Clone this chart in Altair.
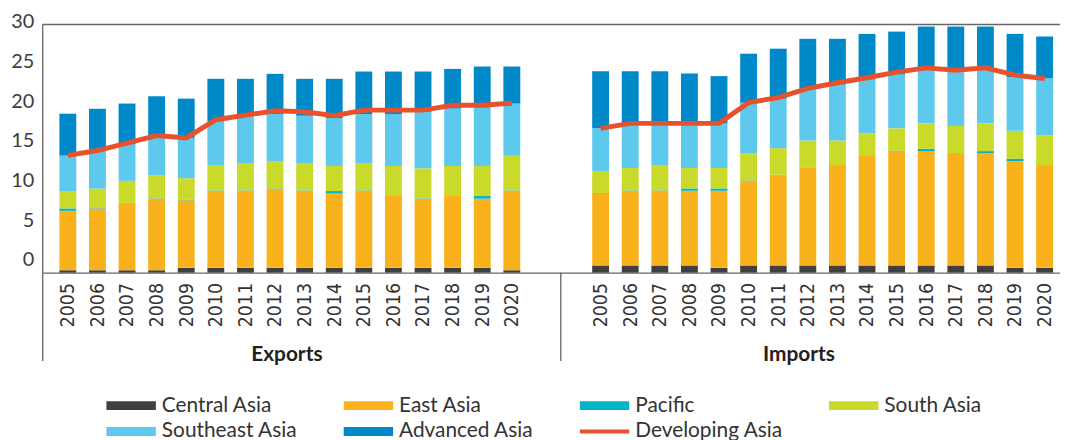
import altair as alt
import pandas as pd

# ---------------- data ----------------
YEARS = ["2005", "2006", "2007", "2008", "2009", "2010", "2011", "2012",
         "2013", "2014", "2015", "2016", "2017", "2018", "2019", "2020"]
FLOWS = ["Exports", "Imports"]
REGIONS = ["Central Asia", "East Asia", "Pacific", "South Asia",
           "Southeast Asia", "Advanced Asia"]
LINE_NAME = "Developing Asia"
COLORS = ["#3F3F3F", "#F9B21B", "#00B4C9", "#C9DA2B", "#5DC9ED", "#0089C8"]
RED = "#E8512C"

EXP_CENTRAL = [0.3, 0.3, 0.3, 0.3, 0.6, 0.6, 0.6, 0.6, 0.6, 0.6, 0.6, 0.6, 0.6, 0.6, 0.6, 0.3]
EXP_EAST = [7.5, 7.8, 8.45, 9.03, 8.53, 9.73, 9.73, 9.98, 9.73, 9.4, 9.73, 9.1, 8.73, 9.1, 8.73, 10.03]
EXP_PACIFIC = [0.3, 0.05, 0.05, 0.05, 0.05, 0.05, 0.05, 0.05, 0.05, 0.29, 0.05, 0.05, 0.05, 0.05, 0.33, 0.05]
EXP_SOUTH = [2.2, 2.45, 2.78, 2.87, 2.73, 3.12, 3.37, 3.45, 3.37, 3.16, 3.37, 3.7, 3.78, 3.7, 3.79, 4.37]
EXP_SOUTHEAST = [4.46, 5.0, 4.67, 4.83, 5.09, 5.58, 6.04, 5.92, 6.04, 6.05, 6.25, 6.55, 7.13, 7.25, 7.38, 6.58]
EXP_ADVANCED = [5.29, 5.07, 5.08, 5.17, 4.95, 5.37, 4.66, 5.08, 4.66, 4.95, 5.37, 5.37, 5.08, 5.0, 5.17, 4.67]
EXP_DEVELOPING = [14.79, 15.4, 16.33, 17.29, 17.0, 19.29, 19.87, 20.41, 20.29, 19.79, 20.5, 20.5, 20.5, 21.12, 21.12, 21.37]

IMP_CENTRAL = [0.9, 0.9, 0.9, 0.9, 0.6, 0.9, 0.9, 0.9, 0.9, 0.9, 0.9, 0.9, 0.9, 0.9, 0.6, 0.6]
IMP_EAST = [9.1, 9.43, 9.43, 9.43, 9.73, 10.68, 11.39, 12.3, 12.6, 13.85, 14.43, 14.43, 14.14, 14.14, 13.48, 12.9]
IMP_PACIFIC = [0.05, 0.05, 0.05, 0.29, 0.29, 0.05, 0.05, 0.05, 0.05, 0.05, 0.05, 0.29, 0.05, 0.29, 0.29, 0.05]
IMP_SOUTH = [2.78, 2.82, 3.12, 2.58, 2.58, 3.41, 3.36, 3.41, 3.11, 2.78, 2.82, 3.21, 3.41, 3.5, 3.54, 3.74]
IMP_SOUTHEAST = [5.37, 5.63, 5.25, 5.55, 5.63, 6.41, 6.25, 6.59, 7.09, 6.79, 6.8, 6.79, 6.79, 6.79, 6.75, 7.21]
IMP_ADVANCED = [7.21, 6.58, 6.66, 6.37, 5.96, 6.17, 6.3, 6.25, 5.75, 5.75, 5.41, 5.42, 5.75, 5.42, 5.46, 5.29]
IMP_DEVELOPING = [18.2, 18.83, 18.83, 18.83, 18.83, 21.45, 22.08, 23.25, 23.95, 24.58, 25.29, 25.83, 25.54, 25.83, 24.91, 24.5]

SERIES = {
    "Exports": [EXP_CENTRAL, EXP_EAST, EXP_PACIFIC, EXP_SOUTH, EXP_SOUTHEAST, EXP_ADVANCED],
    "Imports": [IMP_CENTRAL, IMP_EAST, IMP_PACIFIC, IMP_SOUTH, IMP_SOUTHEAST, IMP_ADVANCED],
}
DEVELOPING = {"Exports": EXP_DEVELOPING, "Imports": IMP_DEVELOPING}

GAP = 2  # empty category slots between the two groups

bar_rows, line_rows, tick_idx = [], [], []
for f, flow in enumerate(FLOWS):
    start = f * (len(YEARS) + GAP)
    for i, yr in enumerate(YEARS):
        idx = start + i
        tick_idx.append(idx)
        for r, reg in enumerate(REGIONS):
            bar_rows.append({"flow": flow, "year": yr, "idx": idx, "region": reg,
                             "ord": r, "value": SERIES[flow][r][i]})
        line_rows.append({"flow": flow, "year": yr, "idx": idx,
                          "value": DEVELOPING[flow][i]})
bar_df = pd.DataFrame(bar_rows)
line_df = pd.DataFrame(line_rows)

all_labels = YEARS + [""] * GAP + YEARS
label_expr = "[" + ",".join("'%s'" % s for s in all_labels) + "][round(datum.value)]"

# ---------------- layout ----------------
W, H = 1025, 250
x_scale = alt.Scale(domain=[-0.848, 33.52], nice=False, zero=False, padding=0)
y_scale = alt.Scale(domain=[0, 31.3], nice=False, padding=0)

x_axis = alt.Axis(values=tick_idx, labelExpr=label_expr, title=None, grid=False,
                  ticks=False, labelAngle=270, labelPadding=10, labelOverlap=False,
                  labelFlush=False, labelFont="DejaVu Sans Condensed", labelFontSize=19.5,
                  labelColor="#333333", domainColor="#666666", domainWidth=1.5)
y_axis = alt.Axis(values=[0, 5, 10, 15, 20, 25, 30], title=None, grid=False, ticks=False,
                  domain=False, labelPadding=9, labelOffset=-13, labelFont="Lato",
                  labelFontSize=20, labelColor="#3C3C3C")

legend = alt.Legend(
    title=None, orient="none", legendX=64, legendY=374, columns=4, direction="horizontal",
    gridAlign="each", columnPadding=46, rowPadding=5, padding=0, clipHeight=20,
    symbolType={"expr": "datum.value == 'Developing Asia' ? 'M-1,-0.08L1,-0.08L1,0.08L-1,0.08Z' : 'M-1,-0.18L1,-0.18L1,0.18L-1,0.18Z'"},
    symbolSize=2500, symbolStrokeWidth=0, labelOffset=6, labelFont="Lato",
    labelFontSize=21, labelColor="#333333", labelLimit=300,
)

bars = alt.Chart(bar_df).mark_bar(size=17).encode(
    x=alt.X("idx:Q", scale=x_scale, axis=x_axis),
    y=alt.Y("value:Q", stack="zero", scale=y_scale, axis=y_axis),
    color=alt.Color("region:N",
                    scale=alt.Scale(domain=REGIONS + [LINE_NAME], range=COLORS + [RED]),
                    legend=legend),
    order=alt.Order("ord:Q", sort="ascending"),
)

line = alt.Chart(line_df).mark_line(color=RED, strokeWidth=5).encode(
    x=alt.X("idx:Q", scale=x_scale, axis=x_axis),
    y=alt.Y("value:Q", scale=y_scale, axis=y_axis),
    detail="flow:N",
)

one = pd.DataFrame({"k": [0]})
top_rule = alt.Chart(one).mark_rule(color="#666666", strokeWidth=1.5).encode(
    x=alt.value(0), x2=alt.value(W), y=alt.value(0))
left_rule = alt.Chart(one).mark_rule(color="#555555", strokeWidth=1.2).encode(
    x=alt.value(0), y=alt.value(0), y2=alt.value(339))
div_rule = alt.Chart(one).mark_rule(color="#555555", strokeWidth=1.2).encode(
    x=alt.value(522), y=alt.value(H), y2=alt.value(339))

exp_label = alt.Chart(pd.DataFrame({"t": [FLOWS[0]]})).mark_text(
    font="Lato", fontWeight="bold", fontSize=21, color="#231F20", baseline="middle").encode(
    x=alt.value(246), y=alt.value(333), text="t:N")
imp_label = alt.Chart(pd.DataFrame({"t": [FLOWS[1]]})).mark_text(
    font="Lato", fontWeight="bold", fontSize=21, color="#231F20", baseline="middle").encode(
    x=alt.value(762), y=alt.value(333), text="t:N")

chart = alt.layer(bars, line, top_rule, left_rule, div_rule, exp_label, imp_label).properties(
    width=W, height=H,
    padding={"left": 35, "top": 15, "right": 0, "bottom": 167},
    autosize=alt.AutoSizeParams(type="none"),
).configure_view(stroke=None)

chart.save("out.html", embed_options={"renderer": "svg", "actions": False})
